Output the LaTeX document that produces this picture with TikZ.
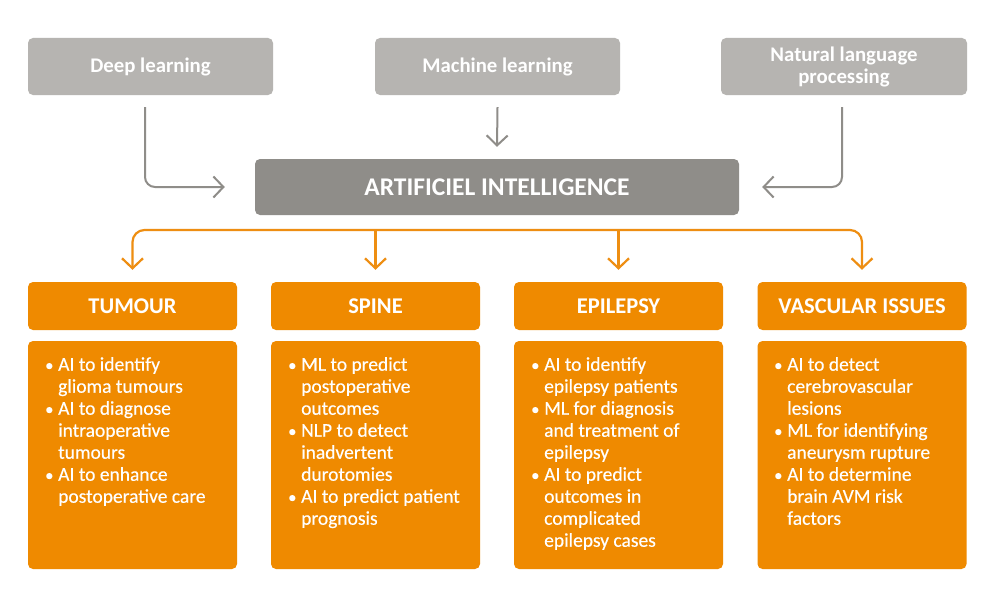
\documentclass[tikz,border=0pt]{standalone}
\usepackage{fontspec}
\setmainfont{Carlito}
\usetikzlibrary{arrows.meta}
\definecolor{lgray}{HTML}{B6B4B1}
\definecolor{dgray}{HTML}{8F8D89}
\definecolor{orng}{HTML}{EF8A00}
\definecolor{oline}{HTML}{EE8E12}
\tikzset{
  x=1pt,y=-1pt,
  topbox/.style={fill=lgray,rounded corners=5pt,minimum width=245pt,minimum height=57pt,text=white,font=\fontsize{20.8}{22}\selectfont\bfseries,align=center,inner sep=0pt},
  aibox/.style={fill=dgray,rounded corners=5pt,minimum width=484pt,minimum height=56pt,text=white,font=\fontsize{25.5}{26}\selectfont\bfseries,inner sep=0pt},
  headbox/.style={fill=orng,rounded corners=5pt,minimum width=209pt,minimum height=48pt,text=white,font=\fontsize{22.5}{24}\selectfont\bfseries,inner sep=0pt},
  bodybox/.style={fill=orng,rounded corners=5pt,minimum width=209pt,minimum height=228pt,inner sep=0pt},
  bodytext/.style={anchor=north west,text=white,font=\fontsize{19.5}{22}\selectfont\addfontfeature{FakeBold=0.4},align=left,inner sep=0pt},
  garr/.style={draw=dgray,line width=2pt,rounded corners=10pt,-{Straight Barb[length=10pt,width=21pt,line width=2pt]}},
  oarr/.style={draw=oline,line width=2.2pt,rounded corners=12pt}
}
\newcommand{\bl}{\makebox[13pt][l]{\scalebox{0.85}{\textbullet}}}
\newcommand{\nb}{\hspace*{13pt}}
\begin{document}
\begin{tikzpicture}
\useasboundingbox (0,0) rectangle (1000,602);
\fill[white] (0,0) rectangle (1000,602);

\node[topbox] (dl) at (150.5,66.5) {Deep learning};
\node[topbox] (ml) at (497.5,66.5) {Machine learning};
\node[topbox,minimum width=246pt] (nlp) at (844,66.5) {\raisebox{-6.7pt}[0pt][0pt]{\begin{tabular}{@{}c@{}}Natural language\\processing\end{tabular}}};
\node[aibox] (ai) at (497,187) {ARTIFICIEL INTELLIGENCE};

\node[headbox] (h1) at (132.5,306) {TUMOUR};
\node[headbox] (h2) at (375.5,306) {SPINE};
\node[headbox] (h3) at (618.5,306) {EPILEPSY};
\node[headbox] (h4) at (862,306) {VASCULAR ISSUES};

\node[bodybox] (b1) at (132.5,455) {};
\node[bodybox] (b2) at (375.5,455) {};
\node[bodybox] (b3) at (618.5,455) {};
\node[bodybox] (b4) at (862,455) {};

\node[bodytext] (t1) at (45,357) {\bl AI to identify\\\nb glioma tumours\\\bl AI to diagnose\\\nb intraoperative\\\nb tumours\\\bl AI to enhance\\\nb postoperative care};
\node[bodytext] (t2) at (288,357) {\bl ML to predict\\\nb postoperative\\\nb outcomes\\\bl NLP to detect\\\nb inadvertent\\\nb durotomies\\\bl AI to predict patient\\\nb prognosis};
\node[bodytext] (t3) at (531,357) {\bl AI to identify\\\nb epilepsy patients\\\bl ML for diagnosis\\\nb and treatment of\\\nb epilepsy\\\bl AI to predict\\\nb outcomes in\\\nb complicated\\\nb epilepsy cases};
\node[bodytext] (t4) at (774,357) {\bl AI to detect\\\nb cerebrovascular\\\nb lesions\\\bl ML for identifying\\\nb aneurysm rupture\\\bl AI to determine\\\nb brain AVM risk\\\nb factors};

% gray connectors
\draw[garr] ([xshift=-5.5pt,yshift=-12pt]dl.south) |- ([xshift=-30pt]ai.west);
\draw[garr] ([yshift=-12pt]ml.south) -- ([yshift=12pt]ai.north);
\draw[garr] ([xshift=-2pt,yshift=-12pt]nlp.south) |- ([xshift=23pt]ai.east);

% orange connectors
\coordinate (o2) at (h2.north |- 0,230);
\coordinate (o3) at (h3.north |- 0,230);
\draw[oarr,{Straight Barb[length=10pt,width=21pt,line width=2.2pt]}-{Straight Barb[length=10pt,width=21pt,line width=2.2pt]}] ([yshift=12pt]h1.north) |- (o2) -- (o3) -| ([yshift=12pt]h4.north);
\draw[oarr,-{Straight Barb[length=10pt,width=21pt,line width=2.2pt]}] (o2) -- ([yshift=12pt]h2.north);
\draw[oarr,-{Straight Barb[length=10pt,width=21pt,line width=2.2pt]}] (o3) -- ([yshift=12pt]h3.north);
\end{tikzpicture}
\end{document}
